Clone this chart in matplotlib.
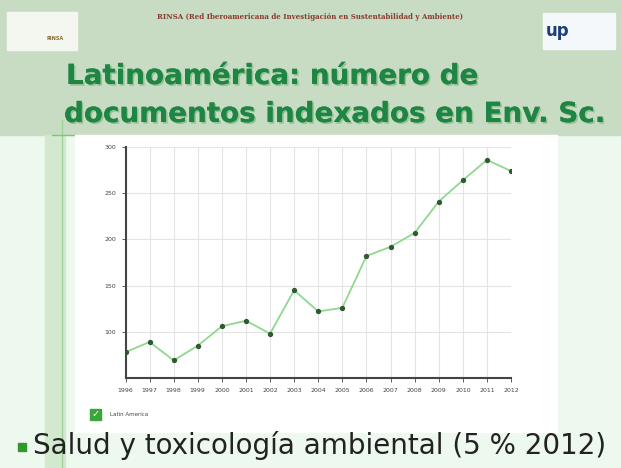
import matplotlib
matplotlib.use("Agg")
import matplotlib.pyplot as plt
from matplotlib.patches import Rectangle
import matplotlib.patheffects as pe

years = list(range(1996, 2013))
values = [78, 89, 69, 85, 106, 112, 98, 145, 122, 126, 182, 192, 207, 241, 264, 286, 274]
y_ticks = [100, 150, 200, 250, 300]
series_name = "Latin America"

W, H = 621, 468
fig = plt.figure(figsize=(W / 100, H / 100), dpi=100)
fig.patch.set_facecolor("#edf8ee")

def fx(px):
    return px / W

def fy(py):
    return 1 - py / H

bg = fig.add_axes([0, 0, 1, 1])
bg.set_xlim(0, W)
bg.set_ylim(H, 0)
bg.axis("off")
# top band
bg.add_patch(Rectangle((0, 0), W, 135, color="#c8dbc3", zorder=0))
# left stripe
bg.add_patch(Rectangle((45, 135), 20, H - 135, color="#d3e9cf", zorder=0))
bg.plot([62, 62], [120, 468], color="#9fd29a", lw=1, zorder=1)
bg.plot([52, 74], [135, 135], color="#7cc878", lw=1, zorder=1)
# white chart panel
bg.add_patch(Rectangle((75, 135), 482, 297, color="white", zorder=1))
# logos
bg.add_patch(Rectangle((7, 12), 70, 38, color="#f4f7f0", zorder=1))
bg.text(55, 38, "RINSA", fontsize=3.5, color="#8a6a3a", ha="center", va="center", weight="bold")
bg.add_patch(Rectangle((543, 13), 72, 36, color="#f4f8fb", zorder=1))
bg.text(558, 31, "up", fontsize=12, color="#1d3f7a", ha="center", va="center", weight="bold")
# header
bg.text(310, 17, "RINSA (Red Iberoamericana de Investigación en Sustentabilidad y Ambiente)",
        fontsize=5, color="#8b3a2e", ha="center", va="center", family="DejaVu Serif", weight="bold")
# title
shadow = [pe.withSimplePatchShadow(offset=(1.2, -1.2), shadow_rgbFace="#8fbf8f", alpha=0.9), pe.Normal()]
bg.text(66, 76, "Latinoamérica: número de", fontsize=20, color="#1e8544", weight="bold",
        ha="left", va="center", path_effects=shadow)
bg.text(64, 114, "documentos indexados en Env. Sc.", fontsize=20, color="#1e8544", weight="bold",
        ha="left", va="center", path_effects=shadow)
# bullet
bg.add_patch(Rectangle((18, 443), 8, 8, color="#2e9a2e", zorder=2))
bg.text(33, 446, "Salud y toxicología ambiental (5 % 2012)", fontsize=20, color="#222222",
        ha="left", va="center", family="DejaVu Sans")
# legend checkbox
bg.add_patch(Rectangle((90, 409), 11, 11, color="#3aa53a", zorder=2))
bg.text(95.5, 414.5, "✓", fontsize=7, color="white", ha="center", va="center", zorder=3)
bg.text(110, 414.5, series_name, fontsize=4, color="#444444", ha="left", va="center")

# chart axes
left, right, top, bottom = 125.5, 511, 147, 378
ax = fig.add_axes([fx(left), fy(bottom), fx(right - left), (bottom - top) / H])
ax.set_facecolor("white")
ax.plot(years, values, color="#8fd88f", lw=1.3, marker="o", markersize=2.8,
        markerfacecolor="#2f5a2f", markeredgecolor="#2f5a2f", zorder=3)
ax.set_xlim(1996, 2012)
ax.set_ylim(50, 300)
ax.set_xticks(years)
ax.set_xticklabels([str(y) for y in years], fontsize=4.5, color="#444444")
ax.set_yticks(y_ticks)
ax.set_yticklabels([str(v) for v in y_ticks], fontsize=4.5, color="#444444")
ax.grid(True, color="#e4e4e4", lw=0.8)
for s in ["top", "right"]:
    ax.spines[s].set_visible(False)
for s in ["left", "bottom"]:
    ax.spines[s].set_color("#444444")
    ax.spines[s].set_linewidth(1.5)
ax.tick_params(length=3, width=0.6, color="#444444", pad=4)

fig.savefig("out.png", dpi=100, facecolor=fig.get_facecolor())
